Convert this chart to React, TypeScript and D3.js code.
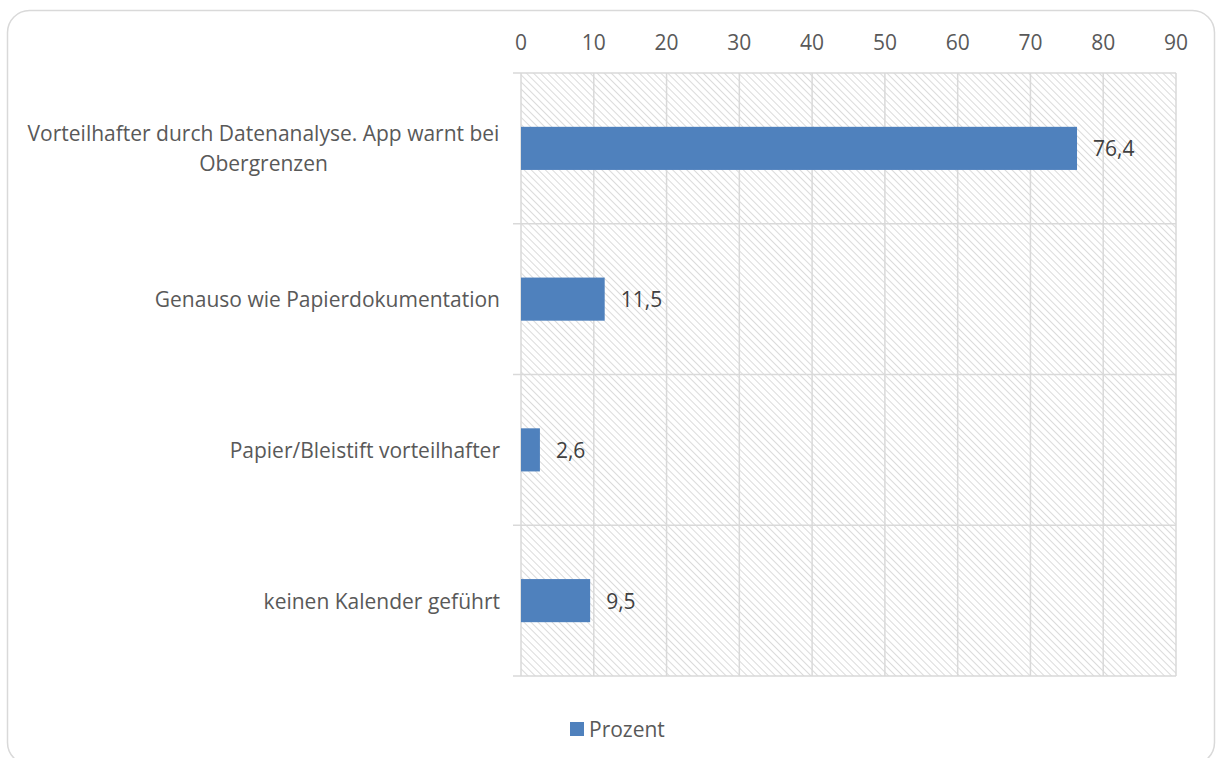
import React from "react";
import * as d3 from "d3";

const categories: string[][] = [
  ["Vorteilhafter durch Datenanalyse. App warnt bei", "Obergrenzen"],
  ["Genauso wie Papierdokumentation"],
  ["Papier/Bleistift vorteilhafter"],
  ["keinen Kalender geführt"],
];
const values: number[] = [76.4, 11.5, 2.6, 9.5];
const valueLabels: string[] = ["76,4", "11,5", "2,6", "9,5"];
const ticks: number[] = [0, 10, 20, 30, 40, 50, 60, 70, 80, 90];
const seriesName = "Prozent";

const W = 1216;
const H = 758;
const FONT = "'Open Sans', 'Noto Sans', sans-serif";
const FS = 21;

export default function App() {
  const left = 521;
  const right = 1176;
  const top = 73;
  const bottom = 676;
  const x = d3.scaleLinear().domain([0, 90]).range([left, right]);
  const y = d3
    .scaleBand<number>()
    .domain(d3.range(categories.length))
    .range([top, bottom])
    .paddingInner(0.714)
    .paddingOuter(0.357);
  const band = (bottom - top) / categories.length;
  const labelCenter = 263.5;

  return (
    <svg
      width={W}
      height={H}
      style={{ position: "absolute", left: 0, top: 0, display: "block" }}
    >
      <defs>
        <pattern id="hatch" width={5} height={5} patternUnits="userSpaceOnUse" patternTransform="rotate(-45)">
          <line x1={0} y1={0} x2={0} y2={5} stroke="#d2d2d2" strokeWidth={1.6} />
        </pattern>
      </defs>
      <rect x={0} y={0} width={W} height={H} fill="#ffffff" />
      <rect x={7.5} y={10.5} width={1207} height={754} rx={22} ry={22} fill="#ffffff" stroke="#d9d9d9" strokeWidth={1.5} />
      <rect x={left} y={top} width={right - left} height={bottom - top} fill="url(#hatch)" />
      {ticks.map((t) => (
        <line key={"v" + t} x1={x(t)} x2={x(t)} y1={top} y2={bottom} stroke="#d9d9d9" strokeWidth={1.5} />
      ))}
      {d3.range(categories.length + 1).map((i) => (
        <line key={"h" + i} x1={513} x2={right} y1={top + i * band} y2={top + i * band} stroke="#d9d9d9" strokeWidth={1.5} />
      ))}
      {ticks.map((t) => (
        <text key={"t" + t} x={x(t)} y={42} textAnchor="middle" dominantBaseline="central" fontFamily={FONT} fontSize={FS} fill="#595959">
          {t}
        </text>
      ))}
      {values.map((v, i) => (
        <rect key={"b" + i} x={x(0)} y={y(i)!} width={x(v) - x(0)} height={y.bandwidth()} fill="#4f81bd" />
      ))}
      {values.map((v, i) => (
        <text key={"l" + i} x={x(v) + 16} y={y(i)! + y.bandwidth() / 2} dominantBaseline="central" fontFamily={FONT} fontSize={FS} fill="#404040">
          {valueLabels[i]}
        </text>
      ))}
      {categories.map((lines, i) => {
        const cy = top + (i + 0.5) * band;
        const lh = 30;
        const y0 = cy - ((lines.length - 1) * lh) / 2;
        return lines.length > 1 ? (
          lines.map((ln, j) => (
            <text key={"c" + i + j} x={labelCenter} y={y0 + j * lh} textAnchor="middle" dominantBaseline="central" fontFamily={FONT} fontSize={FS} fill="#595959">
              {ln}
            </text>
          ))
        ) : (
          <text key={"c" + i} x={500} y={cy} textAnchor="end" dominantBaseline="central" fontFamily={FONT} fontSize={FS} fill="#595959">
            {lines[0]}
          </text>
        );
      })}
      <rect x={570} y={722} width={14} height={14} fill="#4f81bd" />
      <text x={589} y={729} dominantBaseline="central" fontFamily={FONT} fontSize={FS} fill="#595959">
        {seriesName}
      </text>
    </svg>
  );
}
